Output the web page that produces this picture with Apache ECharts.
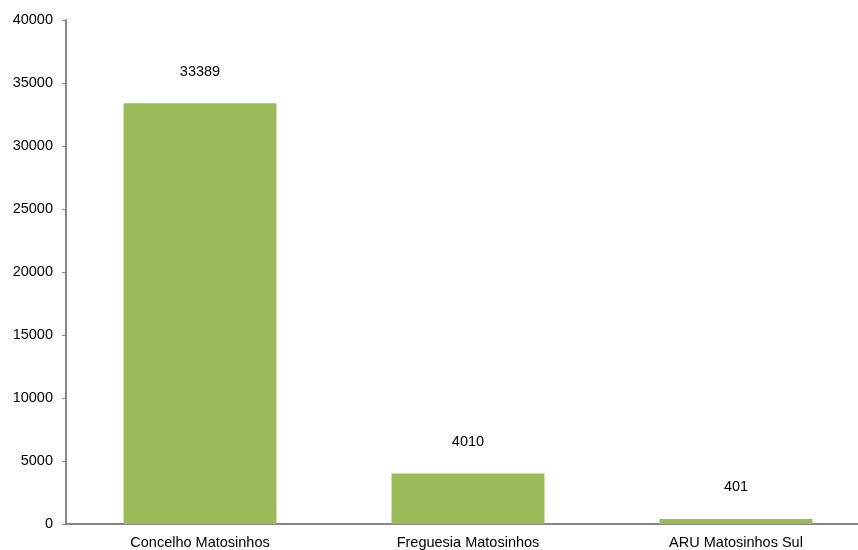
<!DOCTYPE html>
<html><head><meta charset="utf-8">
<script src="https://cdn.jsdelivr.net/npm/echarts@6/dist/echarts.min.js"></script>
<style>html,body{margin:0;padding:0;background:#fff;overflow:hidden}#c{width:870px;height:550px}</style>
</head><body><div id="c"></div>
<script>
const categories = ["Concelho Matosinhos", "Freguesia Matosinhos", "ARU Matosinhos Sul"];
const values = [33389, 4010, 401];
const chart = echarts.init(document.getElementById('c'), null, {renderer: 'canvas'});
const font = 'Liberation Sans, Arial, sans-serif';
chart.setOption({
  animation: false,
  grid: {left: 66, right: 0, top: 20, bottom: 25, containLabel: false},
  xAxis: {
    type: 'category', data: categories,
    axisLine: {lineStyle: {color: '#868686', width: 2}},
    axisTick: {show: false},
    axisLabel: {color: '#000', fontSize: 14.5, fontFamily: font, margin: 11, interval: 0}
  },
  yAxis: {
    type: 'value', min: 0, max: 40000, interval: 5000,
    splitLine: {show: false},
    axisLine: {show: true, lineStyle: {color: '#868686', width: 2}},
    axisTick: {show: true, length: 4, lineStyle: {color: '#868686'}},
    axisLabel: {color: '#000', fontSize: 14.5, fontFamily: font, margin: 13, formatter: v => String(v)}
  },
  series: [{
    type: 'bar', data: values, barWidth: 153,
    itemStyle: {color: '#9BBB59'},
    label: {show: true, position: 'top', distance: 24, color: '#000', fontSize: 14.5, fontFamily: font}
  }]
});
</script></body></html>
